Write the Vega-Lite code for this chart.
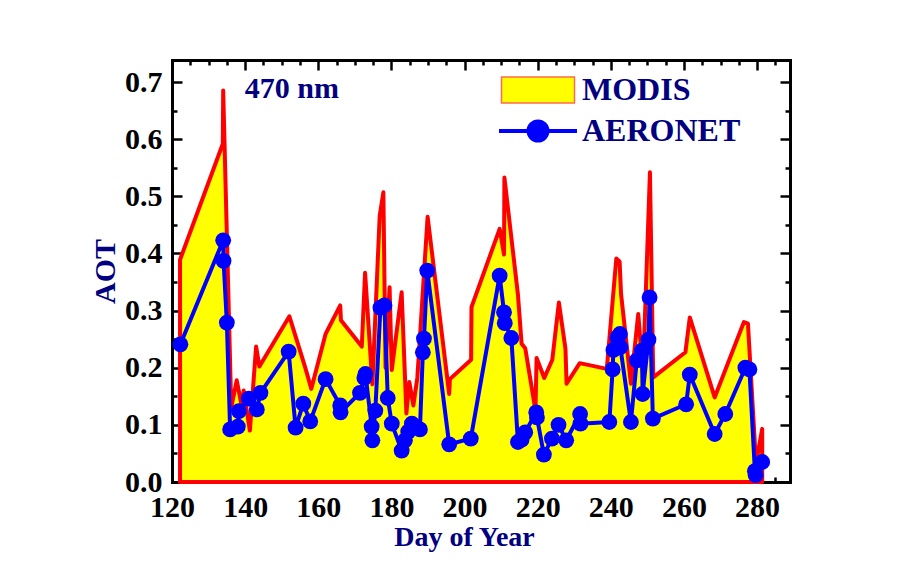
{
  "$schema": "https://vega.github.io/schema/vega-lite/v6.json",
  "width": 618,
  "height": 422,
  "autosize": {"type": "none"},
  "padding": {"left": 172, "top": 60, "right": 118, "bottom": 90},
  "background": "white",
  "config": {
    "view": {"stroke": null},
    "axis": {
      "domain": false,
      "grid": false,
      "labels": false,
      "ticks": true,
      "tickColor": "black",
      "tickWidth": 2.5,
      "zindex": 1,
      "domainColor": "black",
      "domainWidth": 3,
      "domainCap": "square"
    }
  },
  "datasets": {
    "modis": [
      {"day": 122.2, "aot": 0.389}, {"day": 133.9, "aot": 0.592}, {"day": 134.0, "aot": 0.685},
      {"day": 136.2, "aot": 0.130}, {"day": 137.7, "aot": 0.178}, {"day": 139.0, "aot": 0.135},
      {"day": 139.6, "aot": 0.160}, {"day": 141.3, "aot": 0.090}, {"day": 143.0, "aot": 0.237},
      {"day": 143.9, "aot": 0.202}, {"day": 152.1, "aot": 0.290}, {"day": 156.4, "aot": 0.201},
      {"day": 158.1, "aot": 0.163}, {"day": 162.0, "aot": 0.259}, {"day": 166.0, "aot": 0.309},
      {"day": 166.2, "aot": 0.283}, {"day": 171.9, "aot": 0.237}, {"day": 172.8, "aot": 0.366},
      {"day": 174.8, "aot": 0.171}, {"day": 176.8, "aot": 0.466}, {"day": 177.8, "aot": 0.507},
      {"day": 178.4, "aot": 0.200}, {"day": 179.5, "aot": 0.341}, {"day": 180.1, "aot": 0.196},
      {"day": 182.8, "aot": 0.332}, {"day": 184.1, "aot": 0.120}, {"day": 184.9, "aot": 0.175},
      {"day": 186.0, "aot": 0.134}, {"day": 187.1, "aot": 0.183}, {"day": 189.9, "aot": 0.464},
      {"day": 195.8, "aot": 0.154}, {"day": 196.0, "aot": 0.180}, {"day": 201.8, "aot": 0.214},
      {"day": 201.9, "aot": 0.306}, {"day": 209.6, "aot": 0.443}, {"day": 210.8, "aot": 0.398},
      {"day": 210.9, "aot": 0.533}, {"day": 214.6, "aot": 0.328}, {"day": 215.6, "aot": 0.242},
      {"day": 216.6, "aot": 0.234}, {"day": 219.4, "aot": 0.125}, {"day": 219.7, "aot": 0.217},
      {"day": 221.8, "aot": 0.182}, {"day": 224.0, "aot": 0.214}, {"day": 225.8, "aot": 0.314},
      {"day": 227.6, "aot": 0.233}, {"day": 227.9, "aot": 0.172}, {"day": 231.5, "aot": 0.208},
      {"day": 238.9, "aot": 0.198}, {"day": 241.5, "aot": 0.391}, {"day": 242.4, "aot": 0.386},
      {"day": 242.8, "aot": 0.329}, {"day": 245.5, "aot": 0.172}, {"day": 247.5, "aot": 0.294},
      {"day": 248.8, "aot": 0.190}, {"day": 250.7, "aot": 0.542}, {"day": 251.6, "aot": 0.183},
      {"day": 260.4, "aot": 0.227}, {"day": 261.6, "aot": 0.288}, {"day": 268.4, "aot": 0.148},
      {"day": 276.4, "aot": 0.280}, {"day": 277.5, "aot": 0.277}, {"day": 279.7, "aot": 0.032},
      {"day": 281.4, "aot": 0.093}
    ],
    "aeronet": [
      {"day": 122.3, "aot": 0.241}, {"day": 134.0, "aot": 0.423}, {"day": 134.1, "aot": 0.387},
      {"day": 135.0, "aot": 0.279}, {"day": 135.9, "aot": 0.092}, {"day": 138.0, "aot": 0.097},
      {"day": 138.3, "aot": 0.124}, {"day": 141.0, "aot": 0.146}, {"day": 143.2, "aot": 0.127},
      {"day": 144.2, "aot": 0.156}, {"day": 151.9, "aot": 0.228}, {"day": 153.8, "aot": 0.095},
      {"day": 155.9, "aot": 0.137}, {"day": 157.8, "aot": 0.106}, {"day": 162.0, "aot": 0.180},
      {"day": 166.0, "aot": 0.134}, {"day": 166.1, "aot": 0.122}, {"day": 171.4, "aot": 0.156},
      {"day": 172.6, "aot": 0.182}, {"day": 172.9, "aot": 0.189}, {"day": 174.6, "aot": 0.097},
      {"day": 174.8, "aot": 0.073}, {"day": 175.6, "aot": 0.125}, {"day": 177.0, "aot": 0.305},
      {"day": 178.1, "aot": 0.309}, {"day": 179.0, "aot": 0.147}, {"day": 180.1, "aot": 0.102},
      {"day": 182.8, "aot": 0.055}, {"day": 183.7, "aot": 0.073}, {"day": 184.6, "aot": 0.088},
      {"day": 185.6, "aot": 0.102}, {"day": 186.6, "aot": 0.096}, {"day": 187.8, "aot": 0.092},
      {"day": 188.6, "aot": 0.227}, {"day": 188.9, "aot": 0.251}, {"day": 189.8, "aot": 0.370},
      {"day": 195.8, "aot": 0.066}, {"day": 201.7, "aot": 0.076}, {"day": 209.6, "aot": 0.361},
      {"day": 210.8, "aot": 0.297}, {"day": 211.0, "aot": 0.278}, {"day": 212.8, "aot": 0.252},
      {"day": 214.6, "aot": 0.070}, {"day": 215.6, "aot": 0.074}, {"day": 216.6, "aot": 0.087},
      {"day": 219.6, "aot": 0.122}, {"day": 219.8, "aot": 0.113}, {"day": 221.7, "aot": 0.048},
      {"day": 223.9, "aot": 0.076}, {"day": 225.7, "aot": 0.100}, {"day": 227.8, "aot": 0.073},
      {"day": 231.6, "aot": 0.119}, {"day": 231.7, "aot": 0.102}, {"day": 239.6, "aot": 0.105},
      {"day": 240.5, "aot": 0.197}, {"day": 240.7, "aot": 0.231}, {"day": 241.8, "aot": 0.253},
      {"day": 242.5, "aot": 0.259}, {"day": 242.6, "aot": 0.236}, {"day": 245.5, "aot": 0.105},
      {"day": 247.1, "aot": 0.213}, {"day": 248.5, "aot": 0.230}, {"day": 248.7, "aot": 0.154},
      {"day": 250.3, "aot": 0.249}, {"day": 250.6, "aot": 0.323}, {"day": 251.5, "aot": 0.111},
      {"day": 260.6, "aot": 0.136}, {"day": 261.6, "aot": 0.188}, {"day": 268.4, "aot": 0.084},
      {"day": 271.3, "aot": 0.119}, {"day": 276.8, "aot": 0.200}, {"day": 277.9, "aot": 0.197},
      {"day": 279.4, "aot": 0.019}, {"day": 279.6, "aot": 0.012}, {"day": 281.4, "aot": 0.035}
    ],
    "label": [{"day": 152.8, "aot": 0.688, "text": "470 nm"}],
    "series": [
      {"series": "MODIS", "day": 200, "aot": 0.3},
      {"series": "AERONET", "day": 200, "aot": 0.3}
    ]
  },
  "resolve": {"axis": {"x": "independent", "y": "independent"}},
  "layer": [
    {
      "data": {"name": "modis"},
      "mark": {"type": "area", "fill": "#FFFF00", "stroke": "#FF0000", "strokeWidth": 4, "strokeJoin": "round"},
      "encoding": {
        "x": {
          "field": "day", "type": "quantitative",
          "scale": {"domain": [120, 289], "nice": false, "zero": false},
          "axis": {
            "orient": "bottom", "values": [120, 140, 160, 180, 200, 220, 240, 260, 280],
            "ticks": false, "labels": true, "domain": true,
            "labelFont": "Liberation Serif", "labelFontWeight": "bold", "labelFontSize": 30,
            "labelColor": "black", "labelPadding": 10, "labelOverlap": false, "labelFlush": false,
            "title": "Day of Year", "titleFont": "Liberation Serif", "titleFontWeight": "bold",
            "titleFontSize": 28, "titleColor": "#000080", "titleX": 292, "titleY": 63,
            "titleBaseline": "alphabetic", "titleAlign": "center", "titleAnchor": null
          }
        },
        "y": {
          "field": "aot", "type": "quantitative",
          "scale": {"domain": [0, 0.7385], "nice": false, "zero": false},
          "axis": {
            "orient": "left", "values": [0, 0.1, 0.2, 0.3, 0.4, 0.5, 0.6, 0.7], "format": ".1f",
            "ticks": false, "labels": true, "domain": true,
            "labelFont": "Liberation Serif", "labelFontWeight": "bold", "labelFontSize": 30,
            "labelColor": "black", "labelPadding": 10, "labelOverlap": false, "labelFlush": false,
            "title": "AOT", "titleFont": "Liberation Serif", "titleFontWeight": "bold",
            "titleFontSize": 30, "titleColor": "#000080", "titleAngle": 270, "titleX": -58, "titleY": 211,
            "titleBaseline": "alphabetic", "titleAlign": "center", "titleAnchor": null
          }
        }
      }
    },
    {
      "data": {"name": "aeronet"},
      "mark": {"type": "line", "color": "#0000FF", "strokeWidth": 4, "strokeJoin": "round"},
      "encoding": {
        "x": {
          "field": "day", "type": "quantitative",
          "scale": {"domain": [120, 289], "nice": false, "zero": false},
          "axis": {"orient": "bottom", "values": [120, 140, 160, 180, 200, 220, 240, 260, 280], "tickSize": -10, "title": null}
        },
        "y": {
          "field": "aot", "type": "quantitative",
          "scale": {"domain": [0, 0.7385], "nice": false, "zero": false},
          "axis": {"orient": "left", "values": [0, 0.1, 0.2, 0.3, 0.4, 0.5, 0.6, 0.7], "tickSize": -10, "title": null}
        }
      }
    },
    {
      "data": {"name": "aeronet"},
      "mark": {"type": "point", "shape": "circle", "filled": true, "color": "#0000FF", "opacity": 1, "size": 250},
      "encoding": {
        "x": {
          "field": "day", "type": "quantitative",
          "scale": {"domain": [120, 289], "nice": false, "zero": false},
          "axis": {"orient": "bottom", "values": [125, 130, 135, 145, 150, 155, 165, 170, 175, 185, 190, 195, 205, 210, 215, 225, 230, 235, 245, 250, 255, 265, 270, 275, 285], "tickSize": -5, "title": null}
        },
        "y": {
          "field": "aot", "type": "quantitative",
          "scale": {"domain": [0, 0.7385], "nice": false, "zero": false},
          "axis": {"orient": "left", "values": [0.05, 0.15, 0.25, 0.35, 0.45, 0.55, 0.65], "tickSize": -5, "title": null}
        }
      }
    },
    {
      "data": {"name": "label"},
      "mark": {"type": "text", "font": "Liberation Serif", "fontWeight": "bold", "fontSize": 30, "color": "#000080", "align": "center", "baseline": "middle"},
      "encoding": {
        "x": {
          "field": "day", "type": "quantitative",
          "scale": {"domain": [120, 289], "nice": false, "zero": false},
          "axis": {"orient": "top", "values": [120, 140, 160, 180, 200, 220, 240, 260, 280], "tickSize": -10, "domain": true, "title": null}
        },
        "y": {
          "field": "aot", "type": "quantitative",
          "scale": {"domain": [0, 0.7385], "nice": false, "zero": false},
          "axis": {"orient": "right", "values": [0, 0.1, 0.2, 0.3, 0.4, 0.5, 0.6, 0.7], "tickSize": -10, "domain": true, "title": null}
        },
        "text": {"field": "text", "type": "nominal"}
      }
    },
    {
      "data": {"name": "series"},
      "transform": [{"filter": "datum.day < 0"}],
      "mark": {"type": "point", "filled": true, "opacity": 1},
      "encoding": {
        "x": {
          "field": "day", "type": "quantitative",
          "scale": {"domain": [120, 289], "nice": false, "zero": false},
          "axis": {"orient": "top", "values": [125, 130, 135, 145, 150, 155, 165, 170, 175, 185, 190, 195, 205, 210, 215, 225, 230, 235, 245, 250, 255, 265, 270, 275, 285], "tickSize": -5, "title": null}
        },
        "y": {
          "field": "aot", "type": "quantitative",
          "scale": {"domain": [0, 0.7385], "nice": false, "zero": false},
          "axis": {"orient": "right", "values": [0.05, 0.15, 0.25, 0.35, 0.45, 0.55, 0.65], "tickSize": -5, "title": null}
        },
        "fill": {
          "field": "series", "type": "nominal",
          "scale": {"domain": ["MODIS", "AERONET"], "range": ["#FFFF00", "#0000FF"]},
          "legend": {
            "title": null, "orient": "none", "legendX": 349, "legendY": 14, "direction": "vertical",
            "padding": 0, "symbolSize": 900, "labelFont": "Liberation Serif", "labelFontWeight": "bold",
            "labelFontSize": 32, "labelColor": "#000080", "labelOffset": 27, "rowPadding": 6, "labelLimit": 0
          }
        },
        "stroke": {
          "field": "series", "type": "nominal",
          "scale": {"domain": ["MODIS", "AERONET"], "range": ["#FF6A4D", "#0000FF"]}
        },
        "shape": {
          "field": "series", "type": "nominal",
          "scale": {"domain": ["MODIS", "AERONET"], "range": ["M-2.433,-0.867H2.433V0.867H-2.433Z", "M-2.6,0H2.6M0.633,0A0.633,0.633,0,1,1,-0.633,0A0.633,0.633,0,1,1,0.633,0Z"]}
        },
        "strokeWidth": {
          "field": "series", "type": "nominal",
          "scale": {"type": "point", "domain": ["MODIS", "AERONET"], "range": [1.5, 4], "padding": 0}
        }
      }
    }
  ]
}
